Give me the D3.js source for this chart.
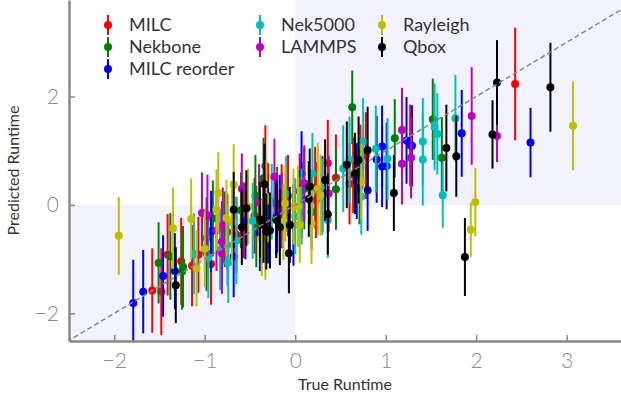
<!DOCTYPE html>
<html>
<head>
    <meta charset="utf-8">
    <script src="https://d3js.org/d3.v7.min.js"></script>
    <style>
        html, body {
            margin: 0;
            padding: 0;
            background: #fff;
            font-family: "Lato", "Open Sans", "DejaVu Sans", sans-serif;
        }
        svg { display: block; }
        .tick text { fill: #8a8a8a; font-size: 21px; font-weight: 300; }
        .axis-title { fill: #333; font-size: 16px; font-weight: 400; }
        .legend text { fill: #333; font-size: 18px; font-weight: 400; }
    </style>
</head>
<body>
<div id="chart"></div>
<script>
    // [true, predicted, error] for each run
    var milc = [
        [-1.58, -1.58, 0.78], [-1.48, -1.60, 0.80], [-1.41, -0.92, 0.75], [-1.26, -1.04, 0.80],
        [-1.14, -1.12, 0.75], [-1.07, -0.92, 0.70], [-0.93, -1.09, 0.75], [-0.75, -0.50, 0.70],
        [-0.65, -0.55, 0.70], [-0.57, -0.28, 0.70], [-0.45, -0.20, 0.70], [-0.30, -0.03, 0.70],
        [-0.33, 0.72, 0.75], [-0.15, 0.05, 0.70], [-0.08, 0.17, 0.75], [0.05, 0.25, 0.70],
        [0.22, 0.32, 0.75], [0.23, 0.09, 0.70], [0.36, 0.77, 0.80], [0.45, 0.50, 0.80],
        [0.60, 0.39, 0.75], [0.64, 0.55, 0.70], [0.72, 0.68, 0.80], [0.78, 0.91, 0.80],
        [1.27, 1.10, 0.75], [2.43, 2.23, 1.04]
    ];
    var nekbone = [
        [-1.51, -1.07, 0.75], [-1.38, -0.95, 0.80], [-1.24, -1.14, 0.75], [-1.25, -1.23, 0.70],
        [-0.98, -0.61, 0.75], [-0.98, -0.89, 0.70], [-0.91, -0.25, 0.70], [-0.78, -0.45, 0.70],
        [-0.60, -0.10, 0.70], [-0.43, -0.40, 0.75], [-0.44, 0.17, 0.75], [-0.35, 0.49, 0.75],
        [-0.20, 0.00, 0.70], [0.10, 0.30, 0.75], [0.18, -0.13, 0.70], [0.45, 0.29, 0.75],
        [0.63, 1.80, 0.68], [0.71, 0.34, 0.70], [1.10, 1.23, 0.72], [1.52, 1.58, 0.75],
        [1.62, 0.87, 0.75]
    ];
    var milcReorder = [
        [-1.79, -1.81, 0.80], [-1.68, -1.60, 0.77], [-1.46, -1.31, 0.75], [-1.33, -1.22, 0.70],
        [-0.93, -0.49, 0.75], [-0.68, -0.95, 0.75], [-0.55, -0.30, 0.70], [-0.39, -0.52, 0.70],
        [-0.30, -0.38, 0.70], [-0.20, -0.18, 0.70], [-0.17, -0.15, 0.70], [-0.21, -0.23, 0.70],
        [-0.02, -0.37, 0.75], [0.07, 0.09, 0.70], [0.07, 0.58, 0.78], [0.30, 0.20, 0.70],
        [0.68, 0.44, 0.70], [0.80, 0.27, 0.75], [0.90, 0.84, 0.80], [0.96, 0.71, 0.75],
        [1.01, 0.72, 0.80], [0.96, 1.08, 0.75], [1.23, 1.19, 0.80], [1.29, 1.09, 0.75],
        [1.84, 1.32, 0.80], [2.60, 1.15, 0.64]
    ];
    var nek5000 = [
        [-1.12, -0.90, 0.75], [-0.96, -0.97, 0.75], [-0.83, -0.82, 0.75], [-0.75, -0.74, 0.75],
        [-0.74, -1.06, 0.75], [-0.65, -0.66, 0.80], [-0.47, -0.29, 0.70], [-0.26, 0.06, 0.70],
        [-0.10, 0.20, 0.70], [0.00, -0.21, 0.70], [0.07, -0.03, 0.70], [0.19, 0.58, 0.75],
        [0.30, 0.15, 0.70], [0.36, -0.28, 0.70], [0.53, 0.67, 0.80], [0.60, 0.83, 0.80],
        [0.73, 0.15, 0.70], [0.75, 1.17, 0.80], [0.89, 1.03, 0.80], [1.02, 0.85, 0.75],
        [1.41, 1.17, 0.80], [1.41, 0.84, 0.85], [1.54, 1.44, 0.80], [1.57, 1.31, 0.75],
        [1.63, 0.18, 0.60], [1.77, 1.60, 0.80]
    ];
    var lammps = [
        [-1.03, -0.15, 0.75], [-0.97, -0.19, 0.75], [-0.87, -0.47, 0.75], [-0.80, -0.38, 0.70],
        [-0.81, -0.68, 0.75], [-0.81, -0.89, 0.75], [-0.59, 0.30, 0.65], [-0.40, 0.05, 0.70],
        [-0.23, 0.52, 0.70], [-0.15, -0.10, 0.70], [0.10, 0.40, 0.70], [0.37, 0.21, 0.70],
        [1.18, 1.38, 0.78], [1.18, 0.76, 0.75], [1.28, 0.87, 0.75], [1.95, 1.64, 0.90],
        [2.23, 1.27, 0.48]
    ];
    var rayleigh = [
        [-1.95, -0.57, 0.72], [-1.35, -0.43, 0.75], [-1.15, -0.26, 0.75], [-1.09, -1.17, 0.70],
        [-1.00, -0.81, 0.70], [-0.87, -0.09, 0.75], [-0.85, 0.22, 0.75], [-0.76, -0.24, 0.70],
        [-0.70, -0.31, 0.75], [-0.68, 0.37, 0.75], [-0.52, -0.03, 0.70], [-0.37, -0.61, 0.70],
        [-0.33, -0.63, 0.75], [-0.33, 0.07, 0.70], [-0.32, 0.15, 0.70], [-0.13, -0.31, 0.70],
        [-0.11, 0.03, 0.70], [-0.02, -0.03, 0.70], [0.03, -0.03, 0.75], [0.05, -0.37, 0.70],
        [0.18, -0.34, 0.75], [0.25, 0.30, 0.85], [0.28, 0.18, 0.75], [0.73, 0.43, 0.70],
        [1.94, -0.46, 0.50], [1.99, 0.05, 0.63], [3.07, 1.46, 0.82]
    ];
    var qbox = [
        [-1.32, -1.48, 0.70], [-0.68, -0.09, 0.70], [-0.54, -0.06, 0.70], [-0.59, -0.41, 0.70],
        [-0.39, -0.27, 0.70], [-0.35, -0.37, 0.70], [-0.34, 0.38, 0.75], [-0.32, -0.49, 0.70],
        [-0.28, -0.47, 0.70], [-0.21, -0.28, 0.70], [-0.17, -0.41, 0.70], [-0.06, -0.37, 0.70],
        [-0.07, -0.89, 0.74], [0.15, 0.11, 0.70], [0.16, 0.34, 0.70], [0.33, 0.46, 0.75],
        [0.36, -0.17, 0.75], [0.57, 0.74, 0.80], [0.66, 0.58, 0.75], [0.70, 0.83, 0.80],
        [0.80, 1.01, 0.80], [1.09, 0.22, 0.70], [1.67, 1.05, 0.80], [1.78, 0.90, 0.75],
        [1.875, -0.96, 0.72], [2.18, 1.30, 0.63], [2.23, 2.26, 0.78], [2.82, 2.17, 0.82]
    ];

    var seriesNames = ["MILC", "Nekbone", "MILC reorder", "Nek5000", "LAMMPS", "Rayleigh", "Qbox"];
    var seriesColors = ["#ff0000", "#008000", "#0000ff", "#00bfbf", "#bf00bf", "#bfbf00", "#000000"];
    var seriesData = [milc, nekbone, milcReorder, nek5000, lammps, rayleigh, qbox];

    var xTicks = [-2, -1, 0, 1, 2, 3];
    var yTicks = [-2, 0, 2];
    var xDomain = [-2.5, 3.6];
    var yDomain = [-2.51, 3.78];

    var width = 621, height = 400;
    var left = 69, bottom = 341;

    var svg = d3.select("#chart").append("svg")
        .attr("width", width)
        .attr("height", height);

    var x = d3.scaleLinear().domain(xDomain).range([left, width]);
    var y = d3.scaleLinear().domain(yDomain).range([bottom, 0]);

    svg.append("clipPath").attr("id", "plot")
        .append("rect")
        .attr("x", left).attr("y", 0)
        .attr("width", width - left).attr("height", bottom);

    var plot = svg.append("g").attr("clip-path", "url(#plot)");

    // shaded quadrants where sign of prediction matches
    plot.append("rect")
        .attr("x", x(xDomain[0])).attr("y", y(0))
        .attr("width", x(0) - x(xDomain[0])).attr("height", y(yDomain[0]) - y(0))
        .attr("fill", "#f2f2fd");
    plot.append("rect")
        .attr("x", x(0)).attr("y", y(yDomain[1]))
        .attr("width", x(xDomain[1]) - x(0)).attr("height", y(0) - y(yDomain[1]))
        .attr("fill", "#f2f2fd");

    seriesData.forEach(function (pts, i) {
        var g = plot.append("g");
        g.selectAll("line")
            .data(pts)
            .enter().append("line")
            .attr("x1", function (d) { return x(d[0]); })
            .attr("x2", function (d) { return x(d[0]); })
            .attr("y1", function (d) { return y(d[1] - d[2]); })
            .attr("y2", function (d) { return y(d[1] + d[2]); })
            .attr("stroke", seriesColors[i])
            .attr("stroke-width", 2);
        g.selectAll("circle")
            .data(pts)
            .enter().append("circle")
            .attr("cx", function (d) { return x(d[0]); })
            .attr("cy", function (d) { return y(d[1]); })
            .attr("r", 4)
            .attr("fill", seriesColors[i]);
    });

    // y = x reference
    plot.append("line")
        .attr("x1", x(-2.6)).attr("y1", y(-2.6))
        .attr("x2", x(3.9)).attr("y2", y(3.9))
        .attr("stroke", "#888")
        .attr("stroke-width", 1.5)
        .attr("stroke-dasharray", "5,3");

    // axes
    var xAxis = svg.append("g")
        .attr("transform", "translate(0," + bottom + ")")
        .call(d3.axisBottom(x).tickValues(xTicks).tickSizeInner(-6).tickSizeOuter(0)
            .tickPadding(12).tickFormat(d3.format("d")));
    var yAxis = svg.append("g")
        .attr("transform", "translate(" + left + ",0)")
        .call(d3.axisLeft(y).tickValues(yTicks).tickSizeInner(-6).tickSizeOuter(0)
            .tickPadding(10).tickFormat(d3.format("d")));

    [xAxis, yAxis].forEach(function (a) {
        a.select(".domain").attr("stroke", "#888").attr("stroke-width", 2.5);
        a.selectAll(".tick line").attr("stroke", "#888").attr("stroke-width", 1.5);
        a.attr("font-family", null);
    });
    xAxis.selectAll(".tick text").attr("dy", "0.71em");

    svg.append("text")
        .attr("class", "axis-title")
        .attr("x", (left + width) / 2).attr("y", 390)
        .attr("text-anchor", "middle")
        .text("True Runtime");
    svg.append("text")
        .attr("class", "axis-title")
        .attr("transform", "translate(19," + (bottom / 2) + ") rotate(-90)")
        .attr("text-anchor", "middle")
        .text("Predicted Runtime");

    // legend, filled column by column
    var legendCols = [[0, 1, 2], [3, 4], [5, 6]];
    var colX = [108, 260, 382];
    var legend = svg.append("g").attr("class", "legend");
    legendCols.forEach(function (col, c) {
        col.forEach(function (idx, r) {
            var ly = 25 + r * 22;
            var item = legend.append("g").attr("transform", "translate(" + colX[c] + "," + ly + ")");
            item.append("line")
                .attr("y1", -10).attr("y2", 10)
                .attr("stroke", seriesColors[idx]).attr("stroke-width", 2);
            item.append("circle").attr("r", 4).attr("fill", seriesColors[idx]);
            item.append("text")
                .attr("x", 21).attr("dy", "0.35em")
                .text(seriesNames[idx]);
        });
    });
</script>
</body>
</html>
